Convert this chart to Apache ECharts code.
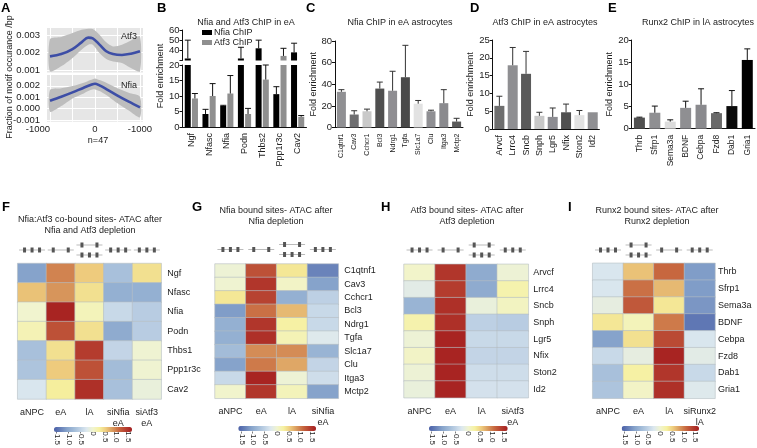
<!DOCTYPE html>
<html>
<head>
<meta charset="utf-8">
<style>html,body{margin:0;padding:0;background:#fff}#main{width:757px;height:448px}</style>
<script src="https://cdn.jsdelivr.net/npm/echarts@6/dist/echarts.min.js"></script>
</head>
<body>
<div id="main"></div>
<script>
// panel A
const motifX = [-1000, -750, -500, -300, -150, -50, 100, 250, 400, 600, 800, 1000];
const atf3Mean = [.00179, .00192, .00221, .00259, .00286, .00282, .00246, .00208, .00192, .00187, .00194, .00208];
const atf3High = [.00278, .0029, .00312, .00331, .00337, .00335, .00303, .00259, .00236, .00246, .0027, .00293];
const atf3Low = [.00093, .00122, .0017, .00217, .00246, .00246, .00198, .00164, .0015, .00141, .00112, .00093];
const nfiaX = [-1000, -750, -500, -250, -100, 0, 100, 250, 500, 750, 1000];
const nfiaMean = [.0007, .00105, .00143, .00184, .00207, .00219, .00204, .00172, .00114, .00061, .00012];
const nfiaHigh = [.00163, .00178, .00198, .00227, .00251, .00265, .00251, .00227, .00178, .0014, .00105];
const nfiaLow = [-.00026, .00023, .0009, .00134, .00163, .00169, .00155, .0012, .00047, -.00017, -.00076];

// panel B
const bGenes = ['Ngf', 'Nfasc', 'Nfia', 'Podn', 'Thbs2', 'Ppp1r3c', 'Cav2'];
const bNfia = [32, 4.2, 6.8, 32, 42, 10.6, 38];
const bNfiaErr = [50, 5.7, 7, 43, 50, 13, 47];
const bAtf3 = [9.2, 10, 10.8, 4.2, 15.3, 34.5, 3.3];
const bAtf3Err = [10.8, 14, 16.6, 6, 20, 42, 3.7];

// panels C, D, E
const cGenes = ['C1qtnf1', 'Cav3', 'Cchcr1', 'Bcl3', 'Ndrg1', 'Tgfa', 'Slc1a7', 'Clu', 'Itga3', 'Mctp2'];
const cValues = [33, 12, 15, 36, 34, 46.5, 22, 15, 22.5, 5.5];
const cErr = [35, 15.5, 17, 42, 52, 76, 25, 16, 35, 8.5];
const cColors = ['#909093', '#6e6e70', '#c9c9c9', '#4f4f4f', '#8f8e92', '#4a4a4a', '#e2e2e2', '#8f8f93', '#8a8a8e', '#5a5a5a'];
const dGenes = ['Arvcf', 'Lrrc4', 'Sncb', 'Snph', 'Lgr5', 'Nfix', 'Ston2', 'Id2'];
const dValues = [6.5, 17.9, 15.5, 3.7, 3.4, 4.7, 3.9, 4.7];
const dErr = [9.2, 22.9, 21.8, 4.7, 5.9, 7, 5.2, 4.7];
const dColors = ['#6e6e6e', '#8f8f92', '#5a5a5a', '#c8c8c8', '#8d8d92', '#505050', '#e2e2e2', '#8f8f92'];
const eGenes = ['Thrb', 'Sfrp1', 'Sema3a', 'BDNF', 'Cebpa', 'Fzd8', 'Dab1', 'Gria1'];
const eValues = [2.5, 3.6, 1.6, 4.7, 5.4, 3.5, 5.1, 15.5];
const eErr = [2.6, 5.1, 2, 6.2, 9, 3.6, 8.6, 18];
const eColors = ['#505050', '#8f8f92', '#dcdcdc', '#8f8f92', '#8a8a8e', '#6a6a6a', '#0a0a0a', '#000000'];

// heatmaps
const fCols = ['aNPC', 'eA', 'lA', 'siNfia\neA', 'siAtf3\neA'];
const fRows = ['Ngf', 'Nfasc', 'Nfia', 'Podn', 'Thbs1', 'Ppp1r3c', 'Cav2'];
const fValues = [
  [-1.1, .95, .55, -.75, .4],
  [.6, .85, .4, -.95, -.95],
  [0, 1.6, .12, -.45, -.6],
  [.15, 1.25, .4, -1, -.6],
  [-.75, .4, 1.4, -.5, -.03],
  [-.7, .55, 1.25, -.8, -.02],
  [-.3, .3, 1.5, -.75, -.1]
];
const gCols = ['aNPC', 'eA', 'lA', 'siNfia\neA'];
const gRows = ['C1qtnf1', 'Cav3', 'Cchcr1', 'Bcl3', 'Ndrg1', 'Tgfa', 'Slc1a7', 'Clu', 'Itga3', 'Mctp2'];
const gValues = [
  [-.05, 1.25, .35, -1.35],
  [-.02, 1.45, .05, -1.1],
  [.35, 1.35, -.95, -.55],
  [-1.15, 1.05, .65, -.45],
  [-.95, 1.45, .25, -.45],
  [-.95, 1.5, .15, -.25],
  [-.8, .9, .9, -.9],
  [-1.1, 1, .75, -.5],
  [-.45, 1.6, -.05, -.4],
  [.02, 1.45, .12, -1.1]
];
const hCols = ['aNPC', 'eA', 'lA', 'siAtf3\neA'];
const hRows = ['Arvcf', 'Lrrc4', 'Sncb', 'Snph', 'Lgr5', 'Nfix', 'Ston2', 'Id2'];
const hValues = [
  [.03, 1.45, -1, -.05],
  [-.2, 1.4, -1, .2],
  [-.9, 1.5, -.1, .08],
  [.2, 1.5, -.55, -.6],
  [-.05, 1.6, -.45, -.45],
  [.05, 1.6, -.5, -.5],
  [-.05, 1.6, -.4, -.4],
  [-.1, 1.6, -.35, -.35]
];
const iCols = ['aNPC', 'eA', 'lA', 'siRunx2\nlA'];
const iRows = ['Thrb', 'Sfrp1', 'Sema3a', 'BDNF', 'Cebpa', 'Fzd8', 'Dab1', 'Gria1'];
const iValues = [
  [-.3, .6, 1.1, -1.15],
  [-.3, 1.05, .65, -1.15],
  [-.15, 1.2, .35, -1.2],
  [.35, .12, 1, -1.45],
  [-1.1, .4, 1.3, -.3],
  [-.45, -.15, 1.6, -.2],
  [-.75, .25, 1.45, -.45],
  [-.7, .05, 1.5, -.25]
];
const scaleTicks = [-1.5, -1, -.5, 0, .5, 1, 1.5];
const heatColors = ['#4a5fa8', '#6780b8', '#86a3cb', '#a0bad7', '#bdd0e4', '#dce8ef', '#f1f4cf', '#f6f1a0', '#eecb7d', '#d99a5e', '#c7673f', '#b53f30', '#a51e1f'];

const FONT = '"Liberation Sans", Arial, sans-serif';
const INK = '#222';
const grid = [], xAxis = [], yAxis = [], series = [], title = [], graphic = [], visualMap = [];

function addGrid(left, top, width, height, extra) {
  grid.push(Object.assign({ left, top, width, height }, extra));
  return grid.length - 1;
}
function addText(text, left, top, size, bold, align) {
  title.push({
    text, left, top, padding: 0, textAlign: align || 'left',
    textStyle: { fontFamily: FONT, fontSize: size, fontWeight: bold ? 'bold' : 'normal', color: bold ? '#000' : INK, lineHeight: size + 2 }
  });
}
function rotatedText(text, x, y, size) {
  graphic.push({ type: 'text', x, y, rotation: Math.PI / 2, style: { text, fontFamily: FONT, fontSize: size, fill: INK, align: 'center', verticalAlign: 'middle' } });
}

// error bar with a cap, shifted inside the band by frac of the band width
function errorSeries(g, rows, color, frac) {
  series.push({
    type: 'custom', xAxisIndex: g, yAxisIndex: g, silent: true, z: 3, data: rows,
    renderItem(params, api) {
      const shift = frac * api.size([1, 0])[0];
      const bottom = api.coord([api.value(0), api.value(1)]);
      const top = api.coord([api.value(0), api.value(2)]);
      const x = bottom[0] + shift;
      const style = { stroke: color, lineWidth: 1 };
      return {
        type: 'group', children: [
          { type: 'line', shape: { x1: x, y1: bottom[1], x2: x, y2: top[1] }, style },
          { type: 'line', shape: { x1: x - 3, y1: top[1], x2: x + 3, y2: top[1] }, style }
        ]
      };
    }
  });
}

function barAxes(g, genes, showLabels, labelSize) {
  xAxis.push({
    type: 'category', gridIndex: g, data: genes, show: showLabels !== false,
    axisTick: { show: false }, axisLine: { lineStyle: { color: '#111' } },
    axisLabel: { rotate: 90, interval: 0, fontSize: labelSize || 9, color: INK, fontFamily: FONT, margin: 6 }
  });
}
function valueAxis(g, min, max, interval, name, nameGap, formatter) {
  yAxis.push({
    type: 'value', gridIndex: g, min, max, interval, name, nameGap,
    nameLocation: 'middle', nameTextStyle: { fontSize: 9, color: INK, fontFamily: FONT },
    splitLine: { show: false },
    axisLine: { show: true, lineStyle: { color: '#111' } },
    axisTick: { show: true, length: 3, lineStyle: { color: '#111' } },
    axisLabel: { fontSize: 9.5, color: INK, fontFamily: FONT, margin: 3, formatter }
  });
}

// single coloured bar panel (C, D, E)
function barPanel(genes, values, errs, colors, left, top, width, height, max, interval, barWidth, errColor, nameGap, labelSize) {
  const g = addGrid(left, top, width, height);
  barAxes(g, genes, true, labelSize);
  valueAxis(g, 0, max, interval, 'Fold enrichment', nameGap);
  series.push({
    type: 'bar', xAxisIndex: g, yAxisIndex: g, barWidth, silent: true,
    data: values.map((v, i) => ({ value: v, itemStyle: { color: colors[i] } }))
  });
  errorSeries(g, values.map((v, i) => [i, v, errs[i]]).filter(r => r[2] > r[1]), errColor, 0);
}

// panel A: band + mean line on grey background
function motifPanel(xs, mean, low, high, top, height, min, max, ticks, showX) {
  const g = addGrid(47, top, 96, height, { show: true, backgroundColor: '#e6e6e6', borderWidth: 0 });
  xAxis.push({
    type: 'value', gridIndex: g, min: -1067, max: 1067,
    axisLine: { show: false },
    axisTick: { show: false, customValues: [-1000, -500, 0, 500, 1000] },
    splitLine: { show: true, lineStyle: { color: '#fff', width: 1 } },
    axisLabel: {
      show: !!showX, customValues: [-1000, 0, 1000], alignMinLabel: 'right',
      formatter: v => v === 0 ? '0' : '-1000',
      fontSize: 9.5, color: INK, fontFamily: FONT, margin: 3
    }
  });
  yAxis.push({
    type: 'value', gridIndex: g, min, max,
    axisLine: { show: false },
    axisTick: { show: false, customValues: ticks },
    splitLine: { show: true, lineStyle: { color: '#fff', width: 1 } },
    axisLabel: {
      customValues: ticks, formatter: v => v.toFixed(3),
      fontSize: 9.5, color: INK, fontFamily: FONT, margin: 7
    }
  });
  series.push({
    type: 'custom', xAxisIndex: g, yAxisIndex: g, silent: true, z: 2,
    data: [0],
    renderItem(params, api) {
      const up = xs.map((x, i) => api.coord([x, high[i]]));
      const down = xs.map((x, i) => api.coord([x, low[i]])).reverse();
      return { type: 'polygon', shape: { points: up.concat(down), smooth: 0.25 }, style: { fill: '#bdbdbd' } };
    }
  });
  series.push({
    type: 'line', xAxisIndex: g, yAxisIndex: g, smooth: 0.35, showSymbol: false, silent: true, z: 3,
    lineStyle: { color: '#3d4ea6', width: 2.6 },
    data: xs.map((x, i) => [x, mean[i]])
  });
}

// heat map + colour bar
function heatPanel(cols, rows, values, left, top, width, height, barLeft, barTop, barWidth, labelMargin) {
  const g = addGrid(left, top, width, height);
  xAxis.push({
    type: 'category', gridIndex: g, data: cols, axisLine: { show: false }, axisTick: { show: false },
    axisLabel: { interval: 0, fontSize: 9, color: INK, fontFamily: FONT, margin: 8, lineHeight: 11, verticalAlign: 'top' }
  });
  yAxis.push({
    type: 'category', gridIndex: g, data: rows, inverse: true, position: 'right',
    axisLine: { show: false }, axisTick: { show: false },
    axisLabel: { interval: 0, fontSize: 9, color: INK, fontFamily: FONT, margin: labelMargin }
  });
  const cells = [];
  values.forEach((row, r) => row.forEach((v, c) => cells.push([c, r, v])));
  series.push({
    type: 'heatmap', xAxisIndex: g, yAxisIndex: g, data: cells, silent: true,
    itemStyle: { borderColor: '#b6bdc2', borderWidth: 0.6 }
  });
  visualMap.push({
    type: 'continuous', seriesIndex: series.length - 1, min: -1.65, max: 1.65, orient: 'horizontal',
    left: barLeft, top: barTop, itemWidth: 5, itemHeight: barWidth, padding: 0, text: null,
    calculable: false, hoverLink: false, showLabel: false,
    inRange: { color: heatColors }
  });
  const s = addGrid(barLeft, barTop, barWidth, 5);
  xAxis.push({
    type: 'value', gridIndex: s, min: -1.65, max: 1.65, axisLine: { show: false }, axisTick: { show: false },
    splitLine: { show: false },
    axisLabel: {
      customValues: scaleTicks, rotate: -90, fontSize: 8, color: INK, fontFamily: FONT, margin: 2,
      formatter: v => v === 0 ? '0' : v.toFixed(1)
    }
  });
  yAxis.push({ type: 'value', gridIndex: s, min: 0, max: 1, show: false });
}

// little promoter/enhancer glyphs above the heat map columns
function glyphs(left, width, y, tracks) {
  const step = width / tracks.length;
  tracks.forEach((t, c) => {
    const cx = left + step * (c + 0.5);
    t.forEach((n, k) => {
      const ty = t.length === 2 ? y - 5 + k * 10 : y;
      graphic.push({ type: 'line', shape: { x1: cx - 13, y1: ty, x2: cx + 13, y2: ty }, style: { stroke: '#aaa', lineWidth: 0.8 } });
      const offs = n === 3 ? [-7.5, 0, 7.5] : [-7.5, 7.5];
      offs.forEach(o => graphic.push({ type: 'rect', shape: { x: cx + o - 1.5, y: ty - 2.5, width: 3, height: 5 }, style: { fill: '#555' } }));
    });
  });
}

// A
motifPanel(motifX, atf3Mean, atf3Low, atf3High, 28, 44.5, .00087, .00341, [.001, .002, .003], false);
motifPanel(nfiaX, nfiaMean, nfiaLow, nfiaHigh, 75, 46.7, -.00114, .00295, [-.001, 0, .001, .002], true);

// B: broken axis, so two grids sharing the categories
const bLow = addGrid(182.5, 65, 124, 62);
barAxes(bLow, bGenes);
valueAxis(bLow, 0, 20, 5);
const bHigh = addGrid(182.5, 30, 124, 30.5);
barAxes(bHigh, bGenes, false);
valueAxis(bHigh, 30, 60, 10, '', 0, v => v === 30 ? '' : v);
[bLow, bHigh].forEach(g => {
  series.push({ type: 'bar', name: 'Nfia ChIP', xAxisIndex: g, yAxisIndex: g, data: bNfia, barWidth: 6, barGap: '20%', itemStyle: { color: '#000' }, silent: true });
  series.push({ type: 'bar', name: 'Atf3 ChIP', xAxisIndex: g, yAxisIndex: g, data: bAtf3, barWidth: 6, barGap: '20%', itemStyle: { color: '#8f8f8f' }, silent: true });
});
const errRows = (vals, errs) => vals.map((v, i) => [i, v, errs[i]]);
errorSeries(bLow, errRows(bNfia, bNfiaErr).filter(r => r[2] <= 20), '#111', -0.2);
errorSeries(bLow, errRows(bAtf3, bAtf3Err).filter(r => r[2] <= 20), '#111', 0.2);
errorSeries(bHigh, errRows(bNfia, bNfiaErr).filter(r => r[2] > 20), '#111', -0.2);
errorSeries(bHigh, errRows(bAtf3, bAtf3Err).filter(r => r[2] > 20), '#111', 0.2);

// C D E
barPanel(cGenes, cValues, cErr, cColors, 335, 41, 128, 86.5, 80, 20, 9, '#333', 17, 7);
barPanel(dGenes, dValues, dErr, dColors, 492.7, 40, 106.7, 89, 25, 5, 10, '#333', 15, 9);
barPanel(eGenes, eValues, eErr, eColors, 631.7, 40, 123.3, 88.7, 20, 5, 11, '#111', 15, 8.5);

// F G H I
heatPanel(fCols, fRows, fValues, 17.7, 263.5, 143.5, 135.5, 54, 427, 78, 6);
heatPanel(gCols, gRows, gValues, 215, 264, 123.3, 134.3, 238.3, 426, 77.7, 6);
heatPanel(hCols, hRows, hValues, 404, 264.3, 124.3, 133.4, 429, 426, 78.7, 5);
heatPanel(iCols, iRows, iValues, 592.7, 263.3, 122.3, 135, 621.7, 426, 77.3, 3);

glyphs(17.7, 143.5, 250, [[3], [2], [2, 3], [3], [3]]);
glyphs(215, 123.3, 249.5, [[3], [2], [2, 3], [3]]);
glyphs(404, 124.3, 250, [[3], [2], [2, 3], [3]]);
glyphs(592.7, 122.3, 250, [[3], [2, 3], [2], [3]]);

// panel letters
[['A', 1, 1], ['B', 157, 1], ['C', 306, 1], ['D', 470, 1], ['E', 608, 1],
 ['F', 2, 200], ['G', 192, 200], ['H', 381, 200], ['I', 568, 200]].forEach(l => addText(l[0], l[1], l[2], 13, true));

// titles and labels
addText('Nfia and Atf3 ChIP in eA', 246, 17, 9, false, 'center');
addText('Nfia ChIP in eA astrocytes', 400, 17, 9, false, 'center');
addText('Atf3 ChIP in eA astrocytes', 545, 17, 9, false, 'center');
addText('Runx2 ChIP in lA astrocytes', 698, 17, 9, false, 'center');
addText('Nfia:Atf3 co-bound sites- ATAC after\nNfia and Atf3 depletion', 90, 214, 9, false, 'center');
addText('Nfia bound sites- ATAC after\nNfia depletion', 276, 205, 9, false, 'center');
addText('Atf3 bound sites- ATAC after\nAtf3 depletion', 467, 205, 9, false, 'center');
addText('Runx2 bound sites- ATAC after\nRunx2 depletion', 657, 205, 9, false, 'center');
addText('Atf3', 121, 31, 9);
addText('Nfia', 121, 80, 9);
addText('n=47', 98, 135, 9, false, 'center');
rotatedText('Fraction of motif occurance /bp', 10, 77, 9);
rotatedText('Fold enrichment', 161, 76, 9);

echarts.init(document.getElementById('main')).setOption({
  animation: false,
  textStyle: { fontFamily: FONT },
  title, grid, xAxis, yAxis, series, visualMap, graphic,
  legend: {
    data: [{ name: 'Nfia ChIP' }, { name: 'Atf3 ChIP' }], orient: 'vertical', left: 202, top: 28, padding: 0,
    itemWidth: 10, itemHeight: 5, itemGap: 1, icon: 'rect', selectedMode: false,
    textStyle: { fontSize: 9, color: INK, fontFamily: FONT, padding: [0, 0, 0, -3] }
  }
});
</script>
</body>
</html>
